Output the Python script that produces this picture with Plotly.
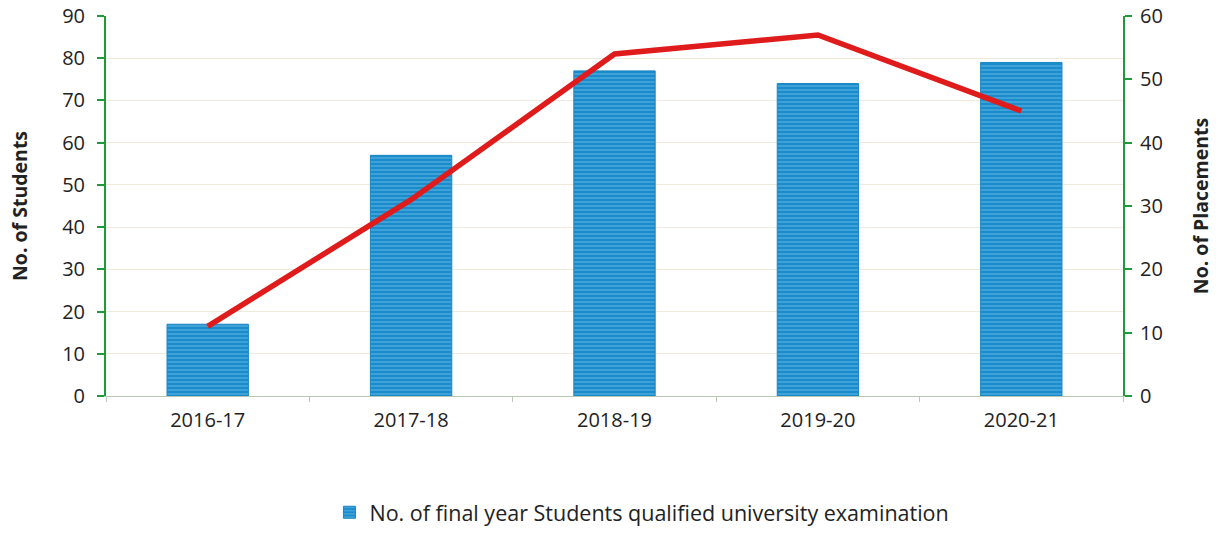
import plotly.graph_objects as go

years = ["2016-17", "2017-18", "2018-19", "2019-20", "2020-21"]
students = [17, 57, 77, 74, 79]
placements = [11, 31, 54, 57, 45]

bar_name = "No. of final year Students qualified university examination"
font_family = "Open Sans"

fig = go.Figure()
fig.add_trace(go.Bar(
    x=years, y=students, name=bar_name, yaxis="y",
    marker=dict(
        color="#1b8ccb",
        line=dict(color="#1a86c4", width=1),
        pattern=dict(shape="-", fgcolor="#7ccbf0", bgcolor="#1b8ccb", size=4, solidity=0.35),
    ),
))
fig.add_trace(go.Scatter(
    x=years, y=placements, yaxis="y2", mode="lines", showlegend=False,
    line=dict(color="#e01b1b", width=5.5), name="No. of Placements",
))

axis_green = "#1e9a3c"
tick_font = dict(family=font_family, size=20, color="#222222")
title_font = dict(family=font_family, size=19.5, color="#222222")

fig.update_layout(
    width=1225, height=556,
    margin=dict(l=106, r=102, t=16, b=160),
    paper_bgcolor="white", plot_bgcolor="white",
    bargap=0.6,
    font=dict(family=font_family, color="#222222"),
    xaxis=dict(
        showline=True, linecolor="#b9c7b5", linewidth=1,
        ticks="outside", tickson="boundaries", ticklen=5, tickcolor="#b9c7b5",
        tickfont=tick_font, ticklabelstandoff=6, showgrid=False, automargin=False,
    ),
    yaxis=dict(
        range=[0, 90], dtick=10, showline=True, linecolor=axis_green, linewidth=2,
        ticks="outside", ticklen=7, tickcolor=axis_green, tickwidth=2,
        tickfont=tick_font, ticklabelstandoff=8, automargin=False,
        showgrid=True, gridcolor="#efeadc", gridwidth=1, zeroline=False,
        title=dict(text="<b>No. of Students</b>", font=title_font, standoff=29),
    ),
    yaxis2=dict(
        range=[0, 60], dtick=10, overlaying="y", side="right",
        showline=True, linecolor=axis_green, linewidth=2, automargin=False,
        ticks="outside", ticklen=7, tickcolor=axis_green, tickwidth=2,
        tickfont=tick_font, ticklabelstandoff=4, showgrid=False, zeroline=False,
        title=dict(text="<b>No. of Placements</b>", font=title_font, standoff=32),
    ),
    legend=dict(
        orientation="h", x=0.527, xanchor="center", y=-0.306, yanchor="middle",
        font=dict(family=font_family, size=21.5, color="#222222"),
        bgcolor="rgba(0,0,0,0)",
    ),
)

fig.write_html("out.html")
